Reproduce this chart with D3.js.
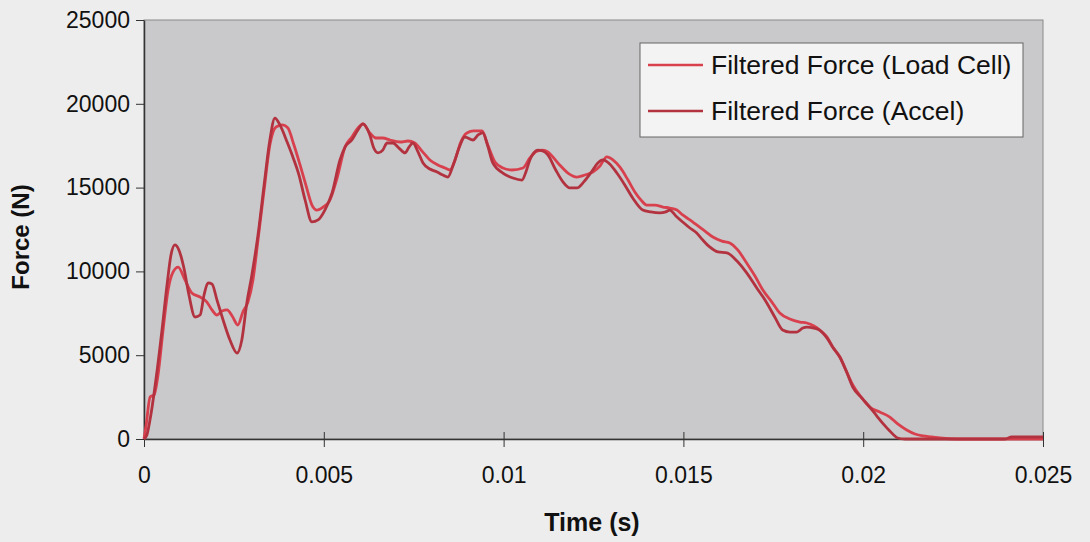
<!DOCTYPE html>
<html>
<head>
<meta charset="utf-8">
<script src="https://cdn.jsdelivr.net/npm/d3@7"></script>
<style>
  html, body { margin: 0; padding: 0; background: #ededed; }
  svg { display: block; font-family: "Liberation Sans", Arial, sans-serif; }
</style>
</head>
<body>
<div id="chart"></div>
<script>
// values (time in s, force in N)
let loadCellTime = [0, 0.00006, 0.00017, 0.00028, 0.00039, 0.00053, 0.00067, 0.00081, 0.00095, 0.00114,
  0.00133, 0.00156, 0.00175, 0.00189, 0.00203, 0.00217, 0.00231, 0.00245, 0.00261, 0.00275,
  0.00289, 0.00303, 0.00317, 0.00334, 0.0035, 0.00367, 0.00386, 0.004, 0.00417, 0.00434,
  0.0045, 0.00467, 0.00481, 0.00498, 0.00517, 0.00537, 0.00559, 0.00578, 0.00595, 0.00609,
  0.00628, 0.00645, 0.00664, 0.00684, 0.00712, 0.00734, 0.00753, 0.00773, 0.00795, 0.00817,
  0.00837, 0.00851, 0.00865, 0.00881, 0.00898, 0.00917, 0.0094, 0.00956, 0.00976, 0.00998,
  0.01023, 0.01054, 0.01073, 0.01093, 0.01109, 0.01123, 0.01137, 0.01156, 0.01179, 0.01204,
  0.01226, 0.01248, 0.01268, 0.01287, 0.01304, 0.01323, 0.01346, 0.01365, 0.01382, 0.01398,
  0.01421, 0.01443, 0.01462, 0.01482, 0.01498, 0.01518, 0.01537, 0.0156, 0.01582, 0.01607,
  0.01629, 0.01651, 0.01676, 0.01699, 0.01721, 0.01746, 0.01768, 0.01796, 0.01824, 0.01843,
  0.01863, 0.01879, 0.01899, 0.01915, 0.01935, 0.01954, 0.01971, 0.01996, 0.02018, 0.02046,
  0.02074, 0.02096, 0.02121, 0.02144, 0.02166, 0.02191, 0.02213, 0.02261, 0.025];
let loadCellForce = [0, 840, 2510, 2630, 3820, 6500, 8890, 9970, 10260, 9490,
  8710, 8470, 8170, 7700, 7400, 7640, 7700, 7340, 6800, 7580,
  8170, 9490, 11870, 14860, 17540, 18620, 18740, 18560, 17540, 16350,
  15160, 13960, 13660, 13840, 14260, 15570, 17420, 18020, 18560, 18800,
  18260, 17960, 17960, 17840, 17720, 17780, 17660, 17180, 16650, 16350,
  16170, 16050, 16650, 17720, 18260, 18380, 18380, 17540, 16530, 16170,
  16050, 16170, 16770, 17180, 17240, 17130, 16830, 16350, 15870, 15630,
  15750, 15930, 16290, 16830, 16650, 16230, 15450, 14740, 14260, 13960,
  13960, 13840, 13780, 13660, 13370, 13070, 12770, 12410, 12050, 11810,
  11700, 11280, 10500, 9730, 8890, 8170, 7520, 7160, 6980, 6920,
  6740, 6500, 6090, 5490, 4890, 4000, 3220, 2450, 1910, 1610,
  1310, 900, 540, 300, 180, 120, 60, 0, 0];

let accelTime = [0, 0.00008, 0.00019, 0.00033, 0.0005, 0.00064, 0.00075, 0.00086, 0.00097, 0.00111,
  0.00125, 0.00142, 0.00156, 0.00167, 0.00178, 0.00189, 0.00203, 0.0022, 0.00239, 0.00259,
  0.00272, 0.00286, 0.003, 0.00317, 0.00334, 0.0035, 0.00364, 0.00378, 0.00398, 0.00414,
  0.00431, 0.00448, 0.00467, 0.00484, 0.00503, 0.00523, 0.00545, 0.00559, 0.00578, 0.00595,
  0.00609, 0.00628, 0.00639, 0.00651, 0.00664, 0.00676, 0.00692, 0.00709, 0.00726, 0.00737,
  0.00748, 0.00762, 0.00776, 0.00795, 0.00815, 0.00831, 0.00845, 0.00859, 0.00876, 0.00892,
  0.00915, 0.00929, 0.00942, 0.00956, 0.0097, 0.00998, 0.01026, 0.01051, 0.01062, 0.01073,
  0.01084, 0.01095, 0.01109, 0.01123, 0.01145, 0.01165, 0.01184, 0.01204, 0.01223, 0.01246,
  0.01262, 0.01276, 0.01295, 0.01315, 0.01337, 0.01359, 0.01387, 0.01409, 0.01434, 0.01451,
  0.01462, 0.01479, 0.01498, 0.01518, 0.01537, 0.01554, 0.01573, 0.01596, 0.01621, 0.01649,
  0.01676, 0.01704, 0.01732, 0.01754, 0.01776, 0.01796, 0.01815, 0.01832, 0.01843, 0.01863,
  0.01879, 0.01899, 0.01915, 0.01935, 0.01954, 0.01971, 0.01996, 0.02018, 0.02038, 0.02054,
  0.02074, 0.02096, 0.02116, 0.02394, 0.02413, 0.025];
let accelForce = [0, 240, 1430, 3520, 6500, 9190, 10980, 11580, 11280, 10200,
  8590, 7280, 7400, 8590, 9310, 9250, 8290, 7100, 5910, 5130,
  5910, 8120, 9790, 12170, 15160, 17840, 19150, 18740, 17720, 16830,
  15750, 14260, 12950, 13070, 13660, 14680, 16650, 17420, 17840, 18440,
  18800, 18140, 17360, 17070, 17240, 17660, 17660, 17360, 17070, 17420,
  17660, 17130, 16470, 16110, 15930, 15750, 15630, 16290, 17360, 18020,
  17840, 18140, 18260, 17480, 16470, 15870, 15570, 15450, 15930, 16650,
  17070, 17240, 17180, 16950, 16050, 15340, 14980, 14980, 15340, 15990,
  16470, 16650, 16410, 15870, 15160, 14380, 13660, 13550, 13490, 13550,
  13660, 13310, 12950, 12590, 12290, 11870, 11460, 11160, 11100, 10620,
  9910, 9010, 8120, 7280, 6500, 6380, 6380, 6620, 6680, 6620,
  6500, 6030, 5490, 4890, 4000, 3100, 2450, 1910, 1370, 950,
  480, 60, 0, 0, 120, 120];

let seriesNames = ["Filtered Force (Load Cell)", "Filtered Force (Accel)"];
let seriesColors = ["#d8404e", "#b3323f"];
let xTicks = [0, 0.005, 0.01, 0.015, 0.02, 0.025];
let yTicks = [0, 5000, 10000, 15000, 20000, 25000];

let svgWidth = 1090;
let svgHeight = 542;
let margin = { top: 20, right: 47, bottom: 103, left: 144 };
let width = svgWidth - margin.left - margin.right;
let height = svgHeight - margin.top - margin.bottom;

let svg = d3.select("#chart").append("svg")
    .attr("width", svgWidth)
    .attr("height", svgHeight);

svg.append("rect")
    .attr("width", svgWidth)
    .attr("height", svgHeight)
    .attr("fill", "#ededed");

let chartGroup = svg.append("g")
    .attr("transform", `translate(${margin.left},${margin.top})`);

let xScale = d3.scaleLinear().domain([0, 0.025]).range([0, width]);
let yScale = d3.scaleLinear().domain([0, 25000]).range([height, 0]);

// plot area
chartGroup.append("rect")
    .attr("width", width)
    .attr("height", height)
    .attr("fill", "#c9c9cb")
    .attr("stroke", "#8a8a8a")
    .attr("stroke-width", 1);

// series
let series = [
    { name: seriesNames[0], color: seriesColors[0], pts: loadCellTime.map((t, i) => [t, loadCellForce[i]]) },
    { name: seriesNames[1], color: seriesColors[1], pts: accelTime.map((t, i) => [t, accelForce[i]]) }
];

let line = d3.line()
    .x(d => xScale(d[0]))
    .y(d => yScale(d[1]))
    .curve(d3.curveMonotoneX);

// axes
let xAxis = chartGroup.append("g")
    .attr("transform", `translate(0,${height})`)
    .call(d3.axisBottom(xScale).tickValues(xTicks).tickSize(8).tickSizeOuter(0)
        .tickFormat(d => String(+d.toFixed(3))));
xAxis.select(".domain").attr("stroke", "#333").attr("stroke-width", 1.5);
xAxis.selectAll(".tick line").attr("y1", -7).attr("stroke", "#333");
xAxis.selectAll(".tick text")
    .attr("y", 28)
    .attr("font-size", 23)
    .attr("fill", "#111");

let yAxis = chartGroup.append("g")
    .call(d3.axisLeft(yScale).tickValues(yTicks).tickSize(8).tickSizeOuter(0)
        .tickFormat(d3.format("d")));
yAxis.select(".domain").attr("stroke", "#333").attr("stroke-width", 1.5);
yAxis.selectAll(".tick line").attr("stroke", "#333");
yAxis.selectAll(".tick text")
    .attr("x", -14)
    .attr("font-size", 23)
    .attr("fill", "#111");

chartGroup.selectAll(".series")
    .data(series)
    .enter()
    .append("path")
    .attr("class", "series")
    .attr("d", d => line(d.pts))
    .attr("fill", "none")
    .attr("stroke", d => d.color)
    .attr("stroke-width", 2.8)
    .attr("stroke-linejoin", "round");

// axis titles
svg.append("text")
    .attr("x", 592)
    .attr("y", 531)
    .attr("text-anchor", "middle")
    .attr("font-size", 25)
    .attr("font-weight", "bold")
    .attr("fill", "#111")
    .text("Time (s)");

svg.append("text")
    .attr("transform", "translate(29,237)rotate(-90)")
    .attr("text-anchor", "middle")
    .attr("font-size", 24)
    .attr("font-weight", "bold")
    .attr("fill", "#111")
    .text("Force (N)");

// legend
let legend = svg.append("g").attr("transform", "translate(640,43)");
legend.append("rect")
    .attr("width", 383)
    .attr("height", 94)
    .attr("fill", "#f3f3f3")
    .attr("stroke", "#666")
    .attr("stroke-width", 1);

let legendItems = legend.selectAll(".item")
    .data(series)
    .enter()
    .append("g")
    .attr("class", "item")
    .attr("transform", (d, i) => `translate(0,${22 + i * 46})`);
legendItems.append("line")
    .attr("x1", 8).attr("x2", 63)
    .attr("y1", 0).attr("y2", 0)
    .attr("stroke", d => d.color)
    .attr("stroke-width", 2.6);
legendItems.append("text")
    .attr("x", 71)
    .attr("y", 0)
    .attr("dy", "0.35em")
    .attr("font-size", 26.5)
    .attr("fill", "#111")
    .text(d => d.name);
</script>
</body>
</html>
